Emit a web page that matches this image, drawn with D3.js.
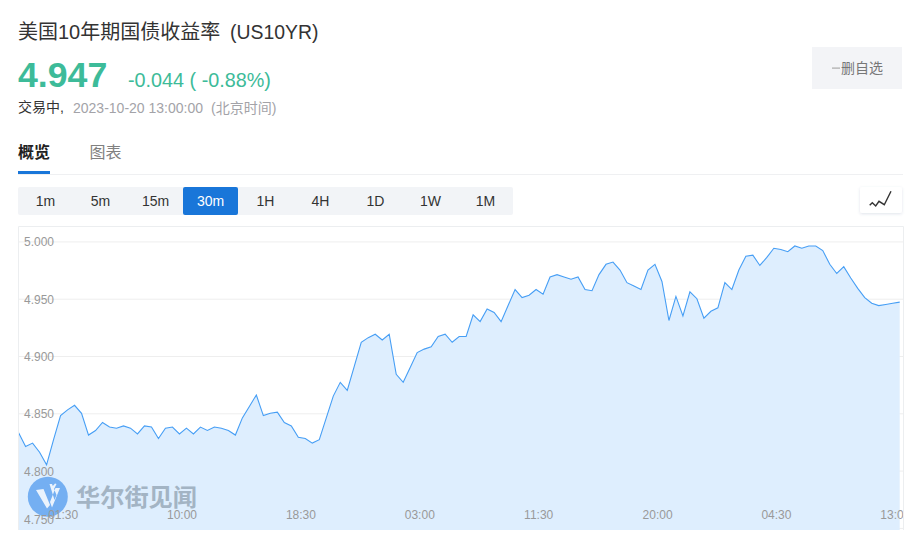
<!DOCTYPE html>
<html><head><meta charset="utf-8">
<script src="https://cdn.jsdelivr.net/npm/d3@7"></script>
<style>
html,body{margin:0;padding:0;background:#fff;overflow:hidden}
svg{display:block}
text{font-family:"Liberation Sans","Noto Sans CJK SC",Arial,sans-serif}
</style></head><body>
<svg id="c" width="916" height="540"></svg>
<script>
const yieldValues = [4.833,4.821,4.824,4.816,4.805,4.827,4.848,4.853,4.857,4.850,4.831,4.835,4.842,4.838,4.837,4.839,4.837,4.832,4.839,4.838,4.828,4.837,4.838,4.832,4.837,4.832,4.838,4.835,4.838,4.837,4.835,4.831,4.846,4.856,4.866,4.848,4.850,4.851,4.842,4.839,4.829,4.828,4.824,4.827,4.846,4.865,4.877,4.870,4.891,4.912,4.916,4.919,4.914,4.919,4.884,4.877,4.890,4.903,4.906,4.908,4.917,4.919,4.912,4.917,4.917,4.936,4.930,4.941,4.938,4.930,4.944,4.958,4.951,4.953,4.958,4.954,4.969,4.971,4.969,4.967,4.969,4.958,4.957,4.971,4.980,4.982,4.975,4.964,4.961,4.958,4.975,4.980,4.965,4.931,4.952,4.935,4.956,4.950,4.933,4.939,4.942,4.964,4.958,4.975,4.987,4.988,4.979,4.986,4.994,4.993,4.991,4.996,4.994,4.996,4.996,4.992,4.980,4.972,4.978,4.968,4.959,4.951,4.946,4.944,4.945,4.946,4.947];
const yTicks = [4.75,4.8,4.85,4.9,4.95,5.0];
const timeLabels = ["01:30","10:00","18:30","03:00","11:30","20:00","04:30","13:00"];
const timeLabelIndex = [6.3,23.3,40.3,57.3,74.3,91.3,108.3,125.3];
const periods = ["1m","5m","15m","30m","1H","4H","1D","1W","1M"];
const activePeriod = "30m";

const svg = d3.select("#c");
const FONT_CJK = '"Noto Sans CJK SC","Liberation Sans",sans-serif';

function label(x,y,t,size,fill,opts={}){
  return svg.append("text").attr("x",x).attr("y",y).attr("font-size",size).attr("fill",fill)
    .attr("font-weight",opts.weight||400).attr("text-anchor",opts.anchor||"start").text(t);
}
// header
label(18,39,"美国10年期国债收益率",20,"#333");
label(230,39,"(US10YR)",19.4,"#333");
label(18,87,"4.947",35.7,"#3dbb99",{weight:700});
label(128,87,"-0.044 ( -0.88%)",19.8,"#3dbb99");
label(18,112,"交易中,",14,"#333");
label(73,113,"2023-10-20 13:00:00",14,"#a3a3a8");
label(211,113,"(北京时间)",14,"#a3a3a8");
svg.append("rect").attr("x",812).attr("y",47).attr("width",90).attr("height",42).attr("fill","#f3f4f7");
svg.append("rect").attr("x",832).attr("y",67.5).attr("width",8).attr("height",1.2).attr("fill","#aaa");
label(841,73,"删自选",14,"#777");

// tabs
label(18,158,"概览",16,"#222",{weight:700});
label(89.5,158,"图表",16,"#808080");
svg.append("rect").attr("x",18).attr("y",174).attr("width",885).attr("height",1).attr("fill","#eff0f2");
svg.append("rect").attr("x",18).attr("y",171).attr("width",32).attr("height",3).attr("fill","#1976d9");

// period buttons
const band = d3.scaleBand().domain(periods).range([18,513]);
svg.append("rect").attr("x",18).attr("y",187).attr("width",495).attr("height",28).attr("rx",2).attr("fill","#f2f4f7");
svg.append("rect").attr("x",band(activePeriod)).attr("y",187).attr("width",band.bandwidth()).attr("height",28).attr("rx",2).attr("fill","#1976d9");
svg.selectAll("text.p").data(periods).join("text").attr("class","p")
  .attr("x",d=>band(d)+band.bandwidth()/2).attr("y",206).attr("text-anchor","middle")
  .attr("font-size",14).attr("fill",d=>d===activePeriod?"#fff":"#333").text(d=>d);

// chart type button
const defs = svg.append("defs");
const f = defs.append("filter").attr("id","sh").attr("x","-20%").attr("y","-20%").attr("width","140%").attr("height","150%");
f.append("feDropShadow").attr("dx",0).attr("dy",1).attr("stdDeviation",1.5).attr("flood-color","#3a5a8a").attr("flood-opacity",0.16);
svg.append("rect").attr("x",860).attr("y",187).attr("width",42).attr("height",26).attr("rx",2).attr("fill","#fff").attr("filter","url(#sh)");
svg.append("path").attr("d","M869.7 205.3L872.3 202.7L875.7 206L879 201.3L884.3 204.7L891 191.3").attr("fill","none").attr("stroke","#333").attr("stroke-width",1.4);

// plot
const L=19,R=903,T=227,B=530;
const x = d3.scaleLinear().domain([0,yieldValues.length-1]).range([18.6,899.7]);
const y = d3.scaleLinear().domain([4.75,5]).range([527.9,241.4]);
defs.append("clipPath").attr("id","plot").append("rect").attr("x",L).attr("y",T).attr("width",R-L).attr("height",B-T);

const frame = svg.append("g");
frame.append("path").attr("d",`M${L-0.5} ${B}V${T-0.5}H${R+0.5}V${B}`).attr("fill","none").attr("stroke","#eceef0");

// grid lines
const grid = svg.append("g").attr("transform",`translate(${L},0)`)
  .call(d3.axisRight(y).tickValues(yTicks).tickSize(R-L).tickFormat(""));
grid.select(".domain").remove();
grid.selectAll("line").attr("stroke","#eeeeee");

// area + line
const plot = svg.append("g").attr("clip-path","url(#plot)");
plot.append("path").datum(yieldValues)
  .attr("d",d3.area().x((d,i)=>x(i)).y0(B).y1(d=>y(d))).attr("fill","#deeefe");
plot.append("path").datum(yieldValues)
  .attr("d",d3.line().x((d,i)=>x(i)).y(d=>y(d))).attr("fill","none").attr("stroke","#469ef5").attr("stroke-width",1.1);

// watermark
const wm = svg.append("g");
wm.append("circle").attr("cx",47.8).attr("cy",496.7).attr("r",20).attr("fill","#74aff2");
wm.append("path").attr("d","M36 490L43.5 489L50 505L47 508.5Z M60 488L55.5 488L50 502L52 507.5Z M49.5 484L52 484L56.5 495L54.5 500Z M55 483.5L56.5 484L53 491L52 487Z").attr("fill","#ffffff").attr("fill-opacity",0.85);
wm.append("text").attr("x",76).attr("y",506).attr("font-size",24.2).attr("font-weight",700)
  .attr("fill","#a3b4c4").attr("style",`font-family:${FONT_CJK}`).text("华尔街见闻");

// axes labels
const yAxis = svg.append("g").attr("transform","translate(24,0)")
  .call(d3.axisRight(y).tickValues(yTicks).tickSize(0).tickPadding(0).tickFormat(d3.format(".3f")));
yAxis.select(".domain").remove();
yAxis.selectAll("text").attr("font-size",12).attr("fill","#999").attr("font-family",null);
yAxis.selectAll(".tick").filter(d=>d===4.75).select("text").attr("y",-8.5);
yAxis.selectAll(".tick").filter(d=>d!==4.75).select("text").attr("y",0.6);

const xAxisG = svg.append("g").attr("clip-path","url(#plot)");
const xAxis = xAxisG.append("g").attr("transform","translate(0,510.5)")
  .call(d3.axisBottom(x).tickValues(timeLabelIndex).tickSize(0).tickPadding(0).tickFormat((d,i)=>timeLabels[i]));
xAxis.select(".domain").remove();
xAxis.selectAll("text").attr("font-size",12).attr("fill","#999").attr("font-family",null);
</script>
</body></html>
